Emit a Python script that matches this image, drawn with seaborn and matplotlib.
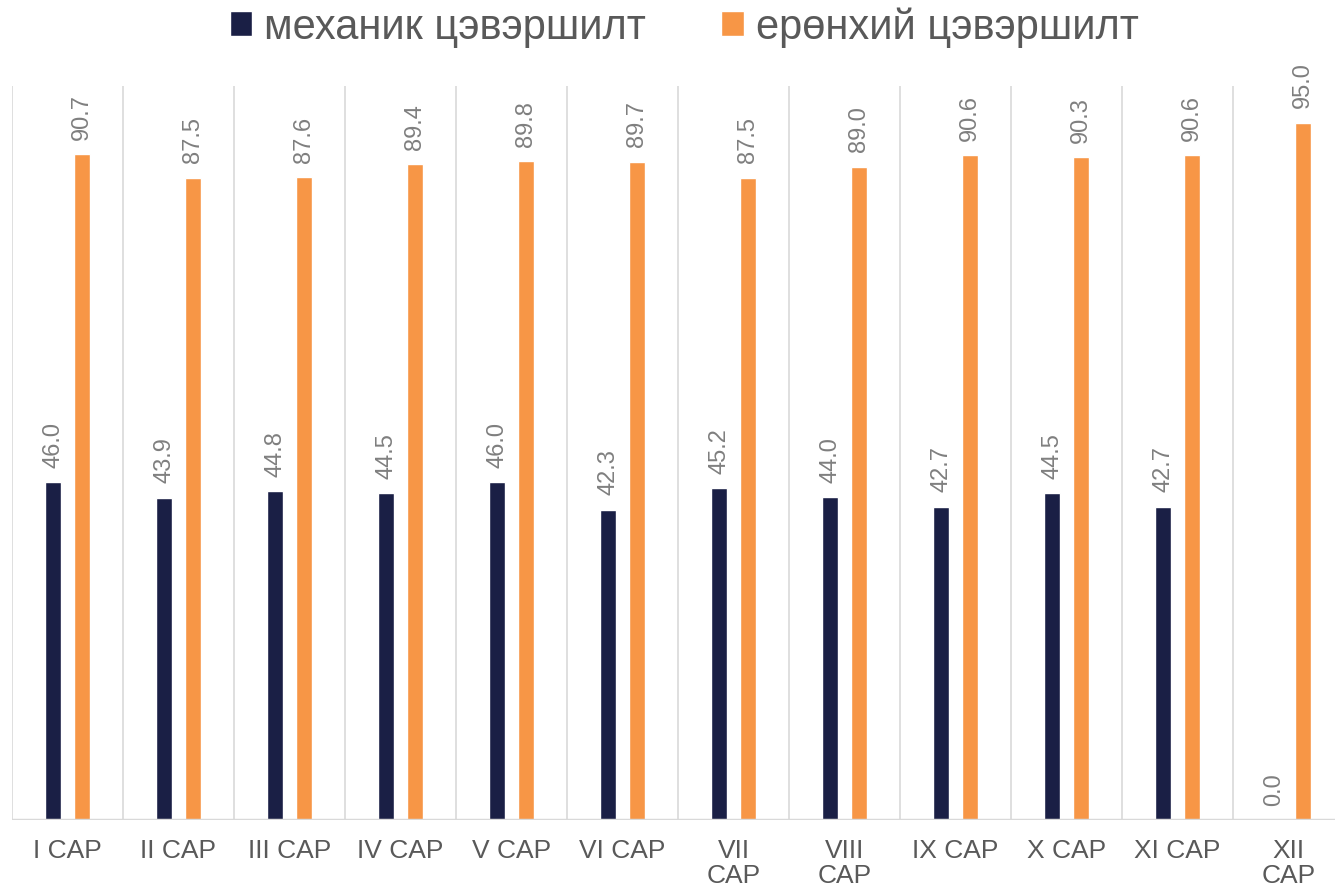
import pandas as pd
import matplotlib.pyplot as plt
import seaborn as sns

# data
months = ["I CAP", "II CAP", "III CAP", "IV CAP", "V CAP", "VI CAP",
          "VII\nCAP", "VIII\nCAP", "IX CAP", "X CAP", "XI CAP", "XII\nCAP"]
mechanical = [46.0, 43.9, 44.8, 44.5, 46.0, 42.3, 45.2, 44.0, 42.7, 44.5, 42.7, 0.0]
overall = [90.7, 87.5, 87.6, 89.4, 89.8, 89.7, 87.5, 89.0, 90.6, 90.3, 90.6, 95.0]
series = ["механик цэвэршилт", "ерөнхий цэвэршилт"]

df = pd.DataFrame({
    "month": months * 2,
    "value": mechanical + overall,
    "series": [series[0]] * len(months) + [series[1]] * len(months),
})

sns.set_theme(style="white")
plt.rcParams["font.family"] = ["Liberation Sans", "DejaVu Sans"]

fig = plt.figure(figsize=(13.35, 8.95), dpi=100)
ax = fig.add_axes([12 / 1335, 74 / 895, 1332 / 1335, 734 / 895])

sns.barplot(data=df, x="month", y="value", hue="series", order=months,
            hue_order=series, palette=["#1a1f45", "#f79646"], saturation=1,
            width=0.52, gap=0.44, ax=ax, legend=True)

for cont in ax.containers:
    ax.bar_label(cont, fmt="%.1f", rotation=90, padding=11,
                 fontsize=17, color="#7f7f7f")

ax.set_xlim(-0.5, len(months) - 0.5)
ax.set_ylim(0, 100)
for i in range(len(months) + 1):
    ax.axvline(i - 0.5, color="#d9d9d9", lw=1.2, zorder=0)
ax.axhline(0, color="#d9d9d9", lw=2.5, zorder=3)

for s in ax.spines.values():
    s.set_visible(False)
ax.set_yticks([])
ax.set_xlabel("")
ax.set_ylabel("")
ax.tick_params(axis="x", length=0, pad=13, labelsize=19, labelcolor="#595959")
for lbl in ax.get_xticklabels():
    lbl.set_linespacing(1.05)

ax.legend(loc="center", bbox_to_anchor=(684 / 1335, 1 - 28 / 895),
          bbox_transform=fig.transFigure, ncol=2, frameon=False,
          fontsize=30, labelcolor="#595959", handlelength=0.55,
          handleheight=0.55, handletextpad=0.28, columnspacing=1.8)

fig.savefig("out.png", dpi=100)
